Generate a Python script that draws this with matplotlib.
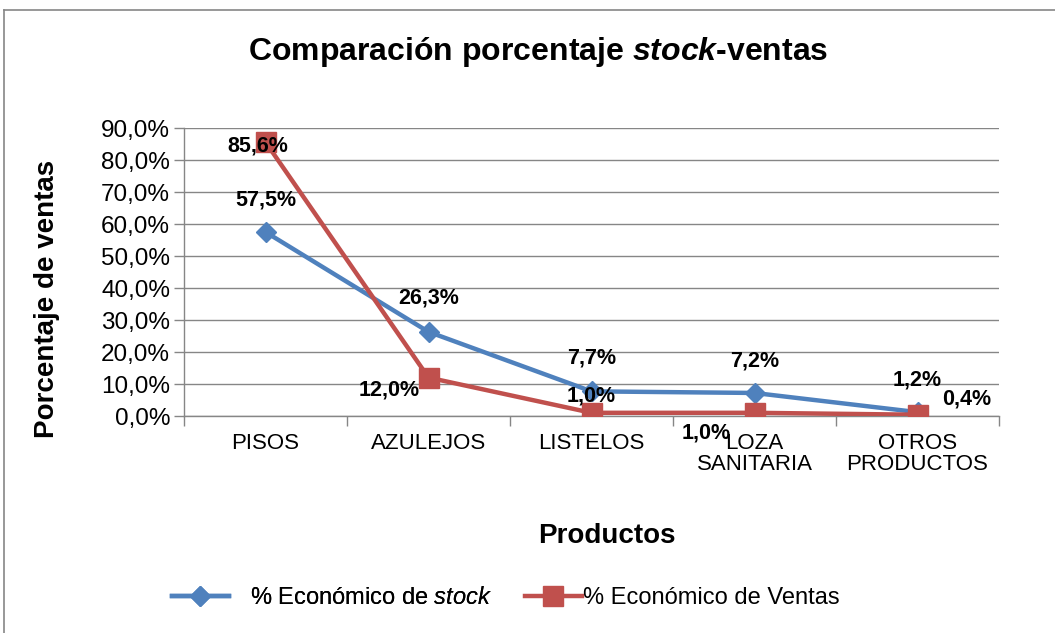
import matplotlib
matplotlib.use("Agg")
import matplotlib.pyplot as plt
from matplotlib.lines import Line2D
from matplotlib.ticker import FuncFormatter

plt.rcParams['font.family'] = ['Liberation Sans', 'DejaVu Sans']
plt.rcParams['mathtext.fontset'] = 'custom'
plt.rcParams['mathtext.rm'] = 'Liberation Sans'
plt.rcParams['mathtext.it'] = 'Liberation Sans:italic'
plt.rcParams['mathtext.bf'] = 'Liberation Sans:bold'
plt.rcParams['mathtext.bfit'] = 'Liberation Sans:bold:italic'

# data
productos = ['PISOS', 'AZULEJOS', 'LISTELOS', 'LOZA\nSANITARIA', 'OTROS\nPRODUCTOS']
stock = [57.5, 26.3, 7.7, 7.2, 1.2]
ventas = [85.6, 12.0, 1.0, 1.0, 0.4]
stock_offsets = [(0, 32), (0, 34), (0, 33), (0, 32), (0, 32)]
ventas_offsets = [(-8, -4), (-39, -12), (0, 17), (-48, -20), (49, 16)]

azul = '#4F81BD'
rojo = '#C0504D'
gris = '#868686'

fig = plt.figure(figsize=(10.55, 6.33), dpi=100)
ax = fig.add_axes([184 / 1055, 1 - 416 / 633, (999 - 184) / 1055, (416 - 128) / 633])

x = list(range(len(productos)))
l1, = ax.plot(x, stock, color=azul, lw=3.2, marker='D', ms=10, zorder=3)
l2, = ax.plot(x, ventas, color=rojo, lw=3.2, marker='s', ms=14, zorder=3)

for xi, v, off in zip(x, stock, stock_offsets):
    ax.annotate(f'{v:.1f}%'.replace('.', ','), (xi, v), xytext=off, textcoords='offset pixels',
                ha='center', va='center', fontsize=15.5, fontweight='bold', zorder=5)
for xi, v, off in zip(x, ventas, ventas_offsets):
    ax.annotate(f'{v:.1f}%'.replace('.', ','), (xi, v), xytext=off, textcoords='offset pixels',
                ha='center', va='center', fontsize=15.5, fontweight='bold', zorder=5)

ax.set_xlim(-0.5, len(productos) - 0.5)
ax.set_ylim(0, 90)
ax.set_yticks(range(0, 91, 10))
ax.yaxis.set_major_formatter(FuncFormatter(lambda v, p: f'{v:.1f}%'.replace('.', ',')))
ax.set_xticks(x)
ax.set_xticklabels(productos, fontsize=16, linespacing=1.0)
ax.set_xticks([i - 0.5 for i in range(len(productos) + 1)], minor=True)
ax.tick_params(axis='x', which='major', length=0, pad=12)
ax.tick_params(axis='x', which='minor', length=7, color=gris, width=1)
ax.tick_params(axis='y', labelsize=17.5, length=7, color=gris, width=1, pad=3)
ax.grid(axis='y', color=gris, lw=1)
ax.set_axisbelow(True)
for s in ['top', 'right']:
    ax.spines[s].set_visible(False)
for s in ['left', 'bottom']:
    ax.spines[s].set_color(gris)
    ax.spines[s].set_linewidth(1)

ax.set_ylabel('Porcentaje de ventas', fontsize=20, fontweight='bold')
ax.yaxis.set_label_coords(60 / 1055, 1 - 299 / 633, transform=fig.transFigure)
fig.text(607 / 1055, 1 - 536 / 633, 'Productos', fontsize=20, fontweight='bold',
         ha='center', va='center')
fig.text(538 / 1055, 1 - 52 / 633, 'Comparación porcentaje $\\mathbfit{stock}$-ventas',
         fontsize=23, fontweight='bold', ha='center', va='center')

# legend, two pieces so the gaps follow the original
leg1 = fig.legend([l1], ['% Económico de $\\mathit{stock}$'], loc='center left',
                  bbox_to_anchor=(172 / 1055, 1 - 598 / 633), frameon=False, fontsize=17,
                  handlelength=2.4, handletextpad=0.9, borderpad=0, borderaxespad=0)
leg2 = fig.legend([l2], ['% Económico de Ventas'], loc='center left',
                  bbox_to_anchor=(525 / 1055, 1 - 598 / 633), frameon=False, fontsize=17,
                  handlelength=2.4, handletextpad=0.05, borderpad=0, borderaxespad=0)
fig.add_artist(leg1)

# chart border
fig.add_artist(Line2D([4 / 1055, 4 / 1055], [0, 1 - 10 / 633], transform=fig.transFigure,
                      color=gris, lw=1.2))
fig.add_artist(Line2D([4 / 1055, 1], [1 - 10 / 633, 1 - 10 / 633], transform=fig.transFigure,
                      color=gris, lw=1.2))

fig.savefig('out.png', dpi=100)
